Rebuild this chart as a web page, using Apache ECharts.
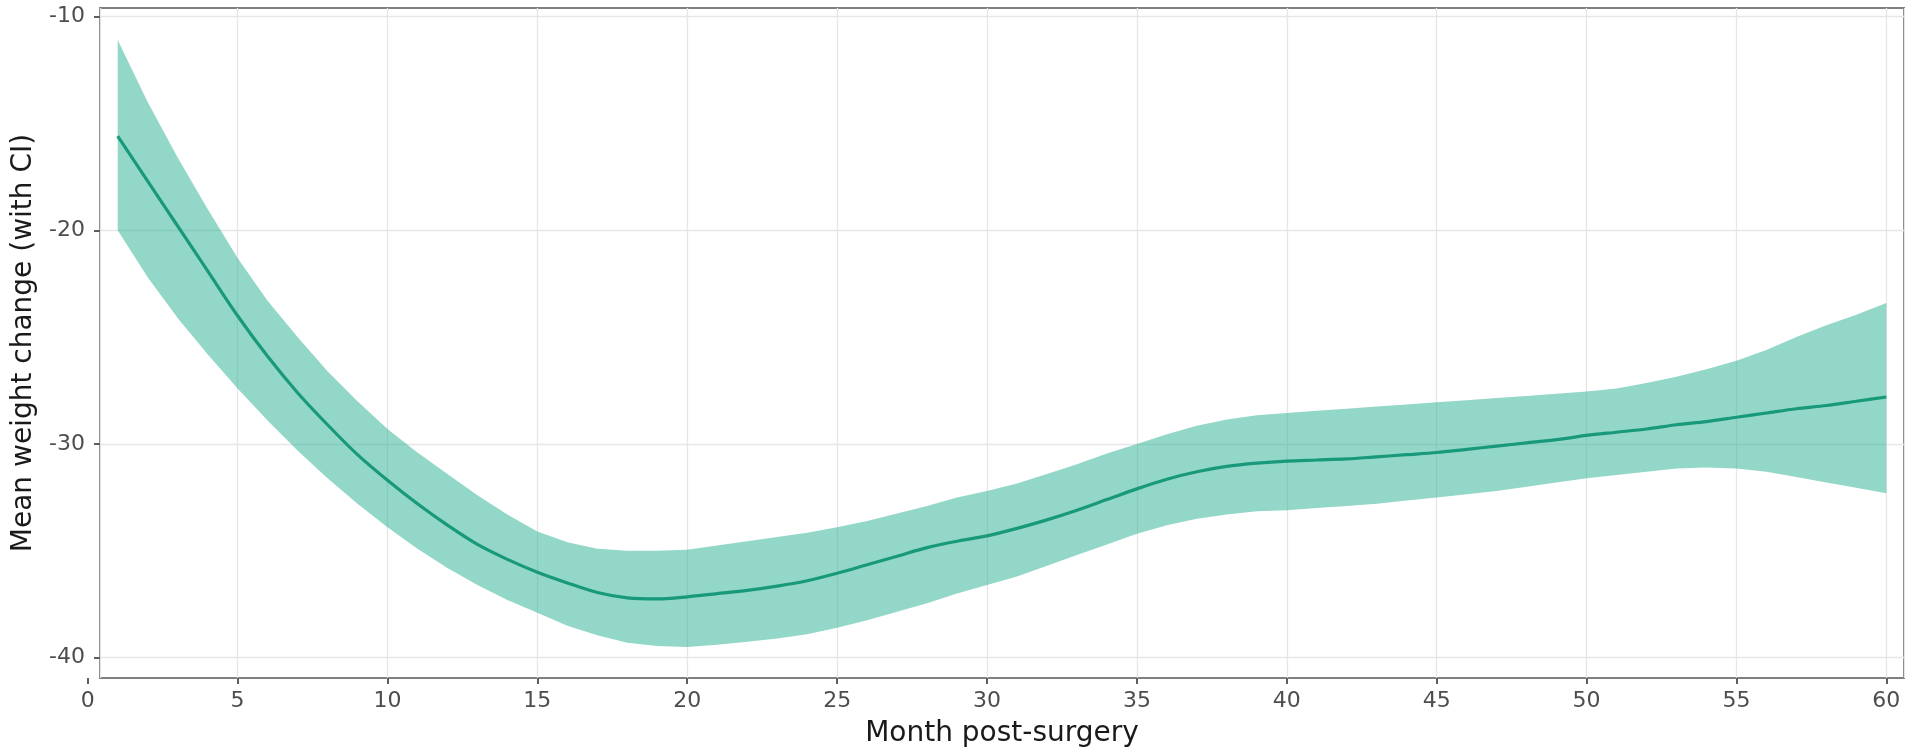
<!DOCTYPE html>
<html>
<head>
<meta charset="utf-8">
<script src="https://cdn.jsdelivr.net/npm/echarts@6/dist/echarts.min.js"></script>
<style>
  html, body { margin: 0; padding: 0; background: #ffffff; }
  #chart { width: 1907px; height: 750px; }
</style>
</head>
<body>
<div id="chart"></div>
<script>
// Months after surgery
const months = [
  1, 2, 3, 4, 5, 6, 7, 8, 9, 10,
  11, 12, 13, 14, 15, 16, 17, 18, 19, 20,
  21, 22, 23, 24, 25, 26, 27, 28, 29, 30,
  31, 32, 33, 34, 35, 36, 37, 38, 39, 40,
  41, 42, 43, 44, 45, 46, 47, 48, 49, 50,
  51, 52, 53, 54, 55, 56, 57, 58, 59, 60
];

// Smoothed mean weight change
const meanChange = [
  -15.6, -17.7, -19.8, -21.9, -24.0, -25.9, -27.6, -29.1, -30.5, -31.7,
  -32.8, -33.8, -34.7, -35.4, -36.0, -36.5, -36.95, -37.2, -37.25, -37.15,
  -37.0, -36.85, -36.65, -36.4, -36.05, -35.65, -35.25, -34.85, -34.55, -34.3,
  -33.95, -33.55, -33.1, -32.6, -32.1, -31.65, -31.3, -31.05, -30.9, -30.8,
  -30.75, -30.7, -30.6, -30.5, -30.4, -30.25, -30.1, -29.95, -29.8, -29.6,
  -29.45, -29.3, -29.1, -28.95, -28.75, -28.55, -28.35, -28.2, -28.0, -27.8
];

// Upper bound of the confidence interval
const ciUpper = [
  -11.1, -14.0, -16.6, -19.0, -21.3, -23.3, -25.0, -26.6, -28.0, -29.3,
  -30.4, -31.4, -32.4, -33.3, -34.1, -34.6, -34.9, -35.0, -35.0, -34.95,
  -34.75, -34.55, -34.35, -34.15, -33.9, -33.6, -33.25, -32.9, -32.5, -32.2,
  -31.85, -31.4, -30.95, -30.45, -30.0, -29.55, -29.15, -28.85, -28.65, -28.55,
  -28.45, -28.35, -28.25, -28.15, -28.05, -27.95, -27.85, -27.75, -27.65, -27.55,
  -27.4, -27.15, -26.85, -26.5, -26.1, -25.6, -25.0, -24.45, -23.95, -23.4
];

// Lower bound of the confidence interval
const ciLower = [
  -20.0, -22.2, -24.1, -25.8, -27.4, -28.9, -30.3, -31.6, -32.8, -33.9,
  -34.9, -35.8, -36.6, -37.3, -37.9, -38.5, -38.95, -39.3, -39.45, -39.5,
  -39.4, -39.25, -39.1, -38.9, -38.6, -38.25, -37.85, -37.45, -37.0, -36.6,
  -36.2, -35.7, -35.2, -34.7, -34.2, -33.8, -33.5, -33.3, -33.15, -33.1,
  -33.0, -32.9, -32.8, -32.65, -32.5, -32.35, -32.2, -32.0, -31.8, -31.6,
  -31.45, -31.3, -31.15, -31.1, -31.15, -31.3, -31.55, -31.8, -32.05, -32.3
];

// Axis tick labels
const xTickLabels = [0, 5, 10, 15, 20, 25, 30, 35, 40, 45, 50, 55, 60];
const yTickLabels = [-40, -30, -20, -10];

// Panel extent (data range with a small padding)
const X_MIN = 0.41, X_MAX = 60.59;
const Y_MIN = -40.95, Y_MAX = -9.6;

const FONT = '"DejaVu Sans", Verdana, sans-serif';
const LINE_COLOR = '#18997a';
const RIBBON_COLOR = 'rgba(40,176,146,0.5)';
const GRID_LINE = { color: '#e6e6e6', width: 1.3 };
const TICK_LINE = { color: '#5e5e5e', width: 2 };

const W = 1907;
const PANEL_LEFT = 100, PANEL_RIGHT = 3, PANEL_TOP = 8, PANEL_BOTTOM = 72;
const pxPerUnit = (W - PANEL_LEFT - PANEL_RIGHT) / (X_MAX - X_MIN);
// the tick strip starts at x = 0, slightly left of the panel
const STRIP_LEFT = PANEL_LEFT - X_MIN * pxPerUnit;

const chart = echarts.init(document.getElementById('chart'), null, { renderer: 'canvas' });

chart.setOption({
  animation: false,
  backgroundColor: '#ffffff',
  grid: [
    {
      left: PANEL_LEFT, right: PANEL_RIGHT, top: PANEL_TOP, bottom: PANEL_BOTTOM,
      outerBoundsMode: 'none', containLabel: false,
      show: true, borderColor: '#808080', borderWidth: 2, backgroundColor: 'transparent'
    },
    {
      left: STRIP_LEFT, right: PANEL_RIGHT, bottom: PANEL_BOTTOM, height: 1,
      outerBoundsMode: 'none', containLabel: false,
      show: false
    }
  ],
  xAxis: [
    {
      gridIndex: 0, type: 'value', min: X_MIN, max: X_MAX, splitNumber: 12,
      axisLine: { show: false }, axisTick: { show: false }, axisLabel: { show: false },
      splitLine: { show: true, lineStyle: GRID_LINE },
      name: 'Month post-surgery', nameLocation: 'middle', nameGap: 42,
      nameTextStyle: { fontFamily: FONT, fontSize: 28, color: '#1a1a1a' }
    },
    {
      gridIndex: 1, type: 'value', min: 0, max: X_MAX,
      axisLine: { show: false },
      axisTick: { show: true, customValues: xTickLabels, length: 6, lineStyle: TICK_LINE },
      axisLabel: {
        customValues: xTickLabels, margin: 12,
        fontFamily: FONT, fontSize: 22, color: '#4d4d4d'
      },
      splitLine: { show: false }
    }
  ],
  yAxis: [
    {
      gridIndex: 0, type: 'value', min: Y_MIN, max: Y_MAX, splitNumber: 6,
      axisLine: { show: false },
      axisTick: { show: true, customValues: yTickLabels, length: 6, lineStyle: TICK_LINE },
      axisLabel: {
        customValues: yTickLabels, margin: 15,
        fontFamily: FONT, fontSize: 22, color: '#4d4d4d'
      },
      splitLine: { show: true, lineStyle: GRID_LINE },
      name: 'Mean weight change (with CI)', nameLocation: 'middle', nameGap: 59, nameRotate: 90,
      nameTextStyle: { fontFamily: FONT, fontSize: 28, color: '#1a1a1a' }
    },
    { gridIndex: 1, type: 'value', min: 0, max: 1, show: false }
  ],
  series: [
    {
      // confidence ribbon: upper edge forward, lower edge back
      type: 'custom',
      xAxisIndex: 0, yAxisIndex: 0,
      data: months.map((m, i) => [m, ciUpper[i], ciLower[i]]),
      encode: { x: 0, y: [1, 2] },
      z: 2,
      silent: true,
      renderItem(params, api) {
        if (params.dataIndex !== 0) return null;
        const pts = [];
        for (let i = 0; i < months.length; i++) pts.push(api.coord([months[i], ciUpper[i]]));
        for (let i = months.length - 1; i >= 0; i--) pts.push(api.coord([months[i], ciLower[i]]));
        return { type: 'polygon', shape: { points: pts }, style: { fill: RIBBON_COLOR } };
      }
    },
    {
      type: 'line',
      xAxisIndex: 0, yAxisIndex: 0,
      data: months.map((m, i) => [m, meanChange[i]]),
      showSymbol: false,
      smooth: 0.3,
      z: 3,
      lineStyle: { color: LINE_COLOR, width: 3.2 }
    }
  ]
});
</script>
</body>
</html>
